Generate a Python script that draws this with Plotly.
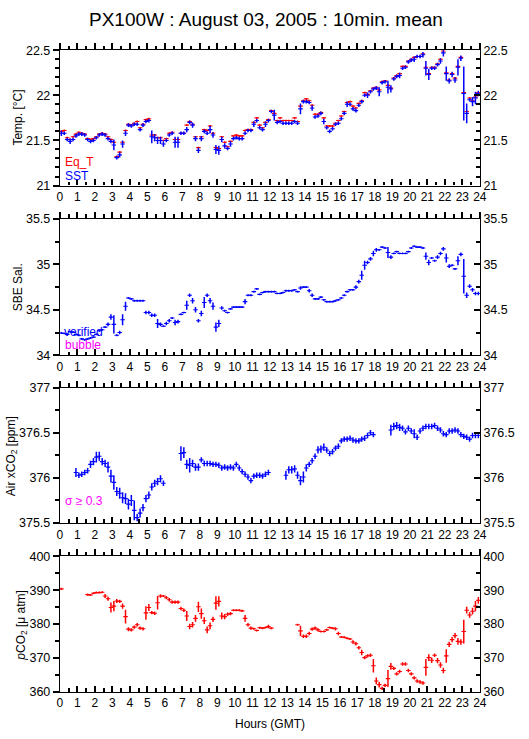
import plotly.graph_objects as go

W, H = 529, 739

# ---------------- data (10-min means, hour of day GMT) ----------------
hours = [round(i / 6 + 1 / 12, 4) for i in range(144)]

eq_t = [21.60, 21.61, 21.53, 21.51, 21.54, 21.57, 21.59, 21.58, 21.57, 21.52,
        21.51, 21.52, 21.54, 21.57, 21.58, 21.57, 21.54, 21.51, 21.48, 21.32,
        21.37, 21.48, 21.61, 21.68, 21.67, 21.69, 21.71, 21.64, 21.68, 21.73,
        21.74, 21.56, 21.56, 21.53, 21.53, 21.50, 21.52, 21.58, 21.59, 21.51,
        21.51, 21.58, 21.58, 21.67, 21.71, 21.68, 21.54, 21.42, 21.54, 21.62,
        21.61, 21.66, 21.58, 21.42, 21.41, 21.54, 21.48, 21.43, 21.49, 21.55,
        21.56, 21.55, 21.55, 21.61, 21.62, 21.62, 21.70, 21.75, 21.67, 21.64,
        21.70, 21.73, 21.83, 21.80, 21.72, 21.75, 21.72, 21.72, 21.72, 21.72,
        21.75, 21.71, 21.88, 21.94, 21.96, 21.94, 21.89, 21.79, 21.79, 21.81,
        21.75, 21.66, 21.66, 21.66, 21.69, 21.72, 21.77, 21.82, 21.92, 21.93,
        21.88, 21.86, 21.91, 21.94, 22.03, 22.01, 22.05, 22.08, 22.09, 22.06,
        22.15, 22.16, 22.11, 22.08, 22.19, 22.22, 22.24, 22.32, 22.32, 22.38,
        22.40, 22.42, 22.43, 22.43, 22.46, 22.31, 22.24, 22.31, 22.31, 22.35,
        22.40, 22.49, 22.25, 22.17, 22.24, 22.19, 22.32, 22.42, 22.03, 21.82,
        21.97, 21.94, 21.98, 22.03]

sst = [21.58, 21.58, 21.51, 21.49, 21.51, 21.55, 21.57, 21.57, 21.56, 21.51,
       21.49, 21.50, 21.53, 21.56, 21.57, 21.56, 21.52, 21.49, 21.45, 21.31,
       21.34, 21.46, 21.58, 21.67, 21.66, 21.68, 21.68, 21.62, 21.67, 21.71,
       21.72, 21.54, 21.53, 21.50, 21.50, 21.46, 21.50, 21.56, 21.58, 21.48,
       21.48, 21.58, 21.58, 21.62, 21.70, 21.67, 21.52, 21.39, 21.52, 21.60,
       21.58, 21.62, 21.56, 21.40, 21.39, 21.51, 21.44, 21.41, 21.46, 21.52,
       21.53, 21.52, 21.52, 21.58, 21.61, 21.61, 21.68, 21.72, 21.64, 21.62,
       21.68, 21.72, 21.82, 21.78, 21.70, 21.71, 21.69, 21.69, 21.69, 21.69,
       21.71, 21.69, 21.85, 21.93, 21.93, 21.92, 21.86, 21.76, 21.77, 21.80,
       21.71, 21.64, 21.60, 21.63, 21.68, 21.69, 21.74, 21.80, 21.90, 21.90,
       21.85, 21.83, 21.89, 21.93, 22.00, 22.00, 22.04, 22.07, 22.08, 22.04,
       22.14, 22.15, 22.09, 22.07, 22.18, 22.21, 22.22, 22.30, 22.31, 22.37,
       22.39, 22.40, 22.43, 22.43, 22.45, 22.30, 22.23, 22.30, 22.30, 22.34,
       22.38, 22.47, 22.24, 22.16, 22.23, 22.17, 22.31, 22.41, 22.02, 21.80,
       21.95, 21.93, 21.97, 22.02]

sst_sd = [0.03, 0.02, 0.02, 0.03, 0.02, 0.02, 0.02, 0.02, 0.02, 0.02,
          0.02, 0.02, 0.02, 0.02, 0.02, 0.02, 0.02, 0.02, 0.06, 0.02,
          0.03, 0.04, 0.03, 0.02, 0.02, 0.02, 0.02, 0.02, 0.02, 0.02,
          0.02, 0.07, 0.04, 0.04, 0.04, 0.03, 0.02, 0.02, 0.02, 0.06,
          0.06, 0.02, 0.02, 0.03, 0.02, 0.03, 0.03, 0.03, 0.03, 0.02,
          0.02, 0.04, 0.03, 0.05, 0.05, 0.03, 0.03, 0.02, 0.03, 0.02,
          0.02, 0.02, 0.02, 0.02, 0.02, 0.02, 0.03, 0.02, 0.02, 0.02,
          0.03, 0.02, 0.02, 0.06, 0.02, 0.02, 0.02, 0.02, 0.02, 0.02,
          0.02, 0.02, 0.06, 0.02, 0.02, 0.02, 0.03, 0.02, 0.02, 0.02,
          0.03, 0.02, 0.02, 0.02, 0.02, 0.02, 0.02, 0.02, 0.03, 0.02,
          0.02, 0.02, 0.02, 0.02, 0.02, 0.03, 0.02, 0.02, 0.02, 0.05,
          0.02, 0.02, 0.07, 0.04, 0.02, 0.02, 0.03, 0.02, 0.02, 0.02,
          0.02, 0.03, 0.02, 0.02, 0.03, 0.08, 0.06, 0.02, 0.02, 0.02,
          0.03, 0.04, 0.08, 0.03, 0.03, 0.03, 0.09, 0.03, 0.30, 0.11,
          0.02, 0.05, 0.07, 0.03]

salinity = [34.245, 34.24, 34.23, 34.26, 34.255, 34.23, 34.22, 34.18, 34.17, 34.18,
            34.19, 34.20, 34.23, 34.27, 34.28, 34.31, 34.34, 34.42, 34.34, 34.22,
            34.25, 34.39, 34.54, 34.63, 34.62, 34.60, 34.60, 34.60, 34.60, 34.47,
            34.47, 34.44, 34.44, 34.35, 34.34, 34.32, 34.35, 34.38, 34.41, 34.36,
            34.37, 34.45, 34.47, 34.55, 34.66, 34.60, 34.50, 34.38, 34.46, 34.58,
            34.66, 34.60, 34.54, 34.31, 34.35, 34.52, 34.49, 34.47, 34.51, 34.53,
            34.53, 34.53, 34.53, 34.59, 34.66, 34.66, 34.70, 34.73, 34.67, 34.69,
            34.70, 34.70, 34.70, 34.70, 34.68, 34.68, 34.69, 34.71, 34.71, 34.71,
            34.72, 34.70, 34.74, 34.75, 34.75, 34.71, 34.66, 34.62, 34.62, 34.64,
            34.61, 34.59, 34.59, 34.59, 34.60, 34.61, 34.63, 34.66, 34.70, 34.72,
            34.72, 34.75, 34.81, 34.88, 34.99, 35.02, 35.06, 35.12, 35.16, 35.16,
            35.19, 35.18, 35.13, 35.08, 35.12, 35.14, 35.12, 35.12, 35.12, 35.14,
            35.18, 35.20, 35.19, 35.19, 35.18, 35.09, 35.02, 35.07, 35.04, 35.08,
            35.12, 35.17, 35.07, 34.98, 34.99, 34.95, 35.04, 35.11, 34.87, 34.66,
            34.76, 34.72, 34.68, 34.68]

sal_sd = [0.01, 0.01, 0.01, 0.01, 0.01, 0.01, 0.01, 0.01, 0.01, 0.01,
          0.01, 0.01, 0.01, 0.01, 0.01, 0.01, 0.02, 0.03, 0.10, 0.01,
          0.02, 0.06, 0.05, 0.01, 0.01, 0.01, 0.01, 0.01, 0.01, 0.02,
          0.02, 0.02, 0.02, 0.05, 0.02, 0.01, 0.02, 0.02, 0.01, 0.03,
          0.02, 0.01, 0.01, 0.05, 0.02, 0.03, 0.03, 0.02, 0.03, 0.06,
          0.02, 0.03, 0.04, 0.05, 0.04, 0.02, 0.01, 0.01, 0.01, 0.01,
          0.01, 0.01, 0.01, 0.03, 0.01, 0.01, 0.01, 0.01, 0.01, 0.01,
          0.01, 0.01, 0.01, 0.01, 0.01, 0.01, 0.01, 0.01, 0.01, 0.01,
          0.01, 0.01, 0.02, 0.01, 0.01, 0.02, 0.02, 0.01, 0.01, 0.01,
          0.01, 0.01, 0.01, 0.01, 0.01, 0.01, 0.01, 0.01, 0.01, 0.01,
          0.01, 0.02, 0.02, 0.05, 0.05, 0.02, 0.02, 0.03, 0.02, 0.01,
          0.01, 0.01, 0.06, 0.02, 0.01, 0.01, 0.01, 0.01, 0.01, 0.01,
          0.01, 0.01, 0.01, 0.01, 0.01, 0.04, 0.03, 0.01, 0.01, 0.02,
          0.02, 0.02, 0.05, 0.02, 0.01, 0.01, 0.05, 0.02, 0.19, 0.03,
          0.02, 0.02, 0.02, 0.02]

N = None
air_xco2 = [N, N, N, N, N, 376.06, 376.03, 376.04, 376.06, 376.08,
            376.15, 376.18, 376.23, 376.24, 376.18, 376.16, 376.12, 376.02, 375.95, 375.85,
            375.83, 375.78, 375.77, 375.71, 375.75, 375.64, 375.56, 375.61, 375.67, 375.77,
            375.81, 375.90, 375.94, 375.96, 375.99, 375.94, N, N, N, N,
            N, 376.27, 376.28, 376.15, 376.14, 376.16, 376.12, 376.12, 376.20, 376.16,
            376.16, 376.16, 376.15, 376.15, 376.14, 376.11, 376.12, 376.11, 376.12, 376.11,
            376.15, 376.11, 376.07, 376.04, 376.01, 375.97, 376.02, 376.03, 376.03, 376.02,
            376.04, 376.06, N, N, N, N, N, 376.03, 376.09, 376.09,
            376.10, 376.03, 375.97, 376.01, 376.11, 376.15, 376.19, 376.24, 376.31, 376.32,
            376.34, 376.31, 376.27, 376.29, 376.33, 376.35, 376.41, 376.43, 376.43, 376.44,
            376.42, 376.41, 376.41, 376.43, 376.44, 376.47, 376.50, 376.48, N, N,
            N, N, N, 376.53, 376.57, 376.58, 376.56, 376.55, 376.51, 376.55,
            376.52, 376.49, 376.45, 376.52, 376.55, 376.57, 376.57, 376.57, 376.58, 376.55,
            376.53, 376.49, 376.48, 376.52, 376.52, 376.53, 376.52, 376.48, 376.46, 376.45,
            376.43, 376.47, 376.47, 376.47]

xco2_sd = [N, N, N, N, N, 0.05, 0.03, 0.03, 0.03, 0.03,
           0.04, 0.04, 0.06, 0.05, 0.04, 0.04, 0.06, 0.07, 0.08, 0.05,
           0.06, 0.06, 0.06, 0.06, 0.06, 0.11, 0.04, 0.05, 0.04, 0.04,
           0.04, 0.04, 0.04, 0.04, 0.04, 0.03, N, N, N, N,
           N, 0.08, 0.06, 0.05, 0.08, 0.04, 0.04, 0.04, 0.03, 0.03,
           0.03, 0.03, 0.03, 0.03, 0.03, 0.03, 0.03, 0.03, 0.03, 0.03,
           0.03, 0.03, 0.03, 0.03, 0.03, 0.03, 0.03, 0.03, 0.03, 0.03,
           0.03, 0.03, N, N, N, N, N, 0.05, 0.04, 0.04,
           0.04, 0.04, 0.05, 0.06, 0.04, 0.03, 0.03, 0.03, 0.04, 0.04,
           0.04, 0.03, 0.03, 0.03, 0.03, 0.03, 0.03, 0.03, 0.03, 0.03,
           0.03, 0.03, 0.03, 0.03, 0.03, 0.03, 0.03, 0.03, N, N,
           N, N, N, 0.06, 0.04, 0.04, 0.04, 0.03, 0.03, 0.03,
           0.03, 0.05, 0.03, 0.03, 0.03, 0.03, 0.03, 0.03, 0.03, 0.03,
           0.03, 0.03, 0.03, 0.03, 0.03, 0.03, 0.03, 0.03, 0.03, 0.03,
           0.03, 0.03, 0.03, 0.03]

pco2 = [390.4, N, N, N, N, N, N, N, N, 388.7,
        388.6, 389.1, 389.3, 389.3, 389.4, 388.3, 387.5, 384.9, 385.3, 386.8,
        386.7, 385.3, 382.2, 378.5, 378.3, 379.1, 379.8, 378.8, 378.6, 383.3,
        384.9, 383.4, 383.2, 386.3, 388.3, 388.3, 387.8, 387.2, 386.5, 386.5,
        386.5, 384.6, 384.1, 382.4, 379.3, 379.8, 381.7, 385.1, 383.1, 381.0,
        378.3, 379.5, 381.4, 386.2, 386.7, 382.4, 382.2, 382.9, 383.1, 384.1,
        384.1, 384.1, 383.9, 381.7, 379.8, 378.8, 378.6, 378.1, 378.9, 378.8,
        379.0, 379.3, 378.8, N, N, N, N, N, N, N,
        N, 379.8, 378.0, 376.4, 376.4, 377.2, 378.5, 378.8, 378.3, 377.8,
        377.8, 378.3, 379.0, 378.8, 378.6, 377.2, 376.2, 376.1, 375.8, 375.6,
        374.7, 374.2, 373.0, 371.6, 370.1, 370.6, 370.8, 367.7, 363.2, 362.1,
        361.0, 361.9, 363.9, 367.5, 366.9, 365.3, 366.0, 368.2, 368.2, 366.3,
        365.3, 364.1, 363.2, 362.9, 362.6, 367.2, 370.1, 369.3, 370.8, 369.2,
        367.9, 366.3, 370.6, 374.0, 375.4, 376.6, 374.9, 374.7, 377.8, 384.1,
        382.7, 383.8, 385.3, 387.0]

pco2_sd = [0.3, N, N, N, N, N, N, N, N, 0.3,
           0.3, 0.3, 0.3, 0.3, 0.3, 0.6, 0.6, 1.5, 1.5, 0.6,
           0.5, 0.8, 2.0, 0.6, 0.5, 0.5, 0.5, 0.5, 0.5, 2.0,
           1.0, 0.5, 0.5, 2.0, 0.5, 0.3, 0.5, 0.5, 0.5, 0.5,
           0.5, 0.5, 0.5, 1.5, 0.8, 0.8, 1.0, 1.5, 1.5, 1.0,
           1.0, 1.0, 0.8, 2.0, 1.5, 1.0, 0.8, 0.5, 0.5, 0.3,
           0.3, 0.3, 0.3, 1.0, 0.5, 0.5, 0.3, 0.3, 0.3, 0.3,
           0.3, 0.5, 0.3, N, N, N, N, N, N, N,
           N, 0.3, 1.5, 0.5, 0.5, 0.5, 0.5, 0.5, 0.5, 0.3,
           0.3, 0.3, 0.3, 0.3, 0.5, 0.5, 0.3, 0.3, 0.3, 0.3,
           0.5, 0.5, 0.5, 0.8, 0.5, 0.5, 0.5, 2.0, 1.0, 0.8,
           0.5, 0.5, 2.5, 1.0, 0.5, 0.5, 0.5, 0.5, 0.5, 0.5,
           0.5, 0.5, 0.5, 0.5, 0.5, 2.5, 1.0, 0.8, 0.5, 0.8,
           0.8, 0.8, 2.0, 0.8, 0.8, 0.8, 1.0, 0.8, 3.5, 1.0,
           0.8, 1.0, 1.5, 1.0]

# ---------------- style ----------------
FONT = "Liberation Sans, Arial, Helvetica, sans-serif"
RED, BLUE, MAGENTA = "#ff0000", "#0000ff", "#ff00ff"
ARM = 0.13  # half-width of the horizontal arm of each cross, in hours
TW = 1.5    # tick width (px)


def fx(p):
    return p / W


def fy(p):
    return 1 - p / H


X_DOM = [fx(58), fx(486)]
# (top_px, bottom_px, y range, major dtick, minor dtick)
panels = [
    (44, 182, [21, 22.5], 0.5, 0.1),
    (216, 355, [34, 35.5], 0.5, 0.25),
    (388, 526, [375.5, 377], 0.5, 0.25),
    (560, 698, [360, 400], 10, 5),
]

fig = go.Figure()


def ax_ids(panel):
    nb, nt = 2 * panel + 1, 2 * panel + 2
    xb = "x" if nb == 1 else f"x{nb}"
    yl = "y" if nb == 1 else f"y{nb}"
    return xb, f"x{nt}", yl, f"y{nt}"


def add_series(panel, xs, ys, sd, color, sd_const=None):
    xb, _, yl, _ = ax_ids(panel)
    ey = (dict(type="constant", value=sd_const, width=0, thickness=1.5, color=color)
          if sd_const is not None else
          dict(type="data", array=sd, symmetric=True, width=0, thickness=1.5, color=color))
    fig.add_trace(go.Scatter(
        x=xs, y=ys, xaxis=xb, yaxis=yl, mode="markers",
        marker=dict(size=1, color=color),
        error_x=dict(type="constant", value=ARM, width=0, thickness=1.1, color=color),
        error_y=ey, showlegend=False, hoverinfo="x+y"))


add_series(0, hours, eq_t, None, RED, sd_const=0.01)
add_series(0, hours, sst, sst_sd, BLUE)
add_series(1, hours, salinity, sal_sd, BLUE)
add_series(2, hours, air_xco2, xco2_sd, BLUE)
add_series(3, hours, pco2, pco2_sd, RED)

# empty traces so that the mirrored (top / right) axes get drawn
for p in range(4):
    _, xt, _, yr_ = ax_ids(p)
    fig.add_trace(go.Scatter(x=[], y=[], xaxis=xt, yaxis=yr_, mode="markers",
                             showlegend=False, hoverinfo="skip"))

tickfont_x = dict(family=FONT, size=12, color="black")
tickfont_y = dict(family=FONT, size=12.5, color="black")

for i, (top, bot, yr, dt, mdt) in enumerate(panels):
    nb, nt = 2 * i + 1, 2 * i + 2
    kb = "xaxis" if nb == 1 else f"xaxis{nb}"
    kt = f"xaxis{nt}"
    ykl = "yaxis" if nb == 1 else f"yaxis{nb}"
    ykr = f"yaxis{nt}"
    xb_id, xt_id, yl_id, yr_id = ax_ids(i)
    ydom = [fy(bot), fy(top)]
    fig.layout[kb] = go.layout.XAxis(
        range=[0, 24], domain=X_DOM, anchor=yl_id, side="bottom",
        showgrid=False, zeroline=False, showline=True, linecolor="black", linewidth=1.2,
        tickmode="linear", tick0=0, dtick=1, ticks="inside", ticklen=6, tickwidth=TW,
        tickcolor="black", showticklabels=True, tickfont=tickfont_x,
        minor=dict(dtick=0.5, tick0=0, ticks="inside", ticklen=3.5, tickwidth=TW,
                   tickcolor="black", showgrid=False))
    fig.layout[kt] = go.layout.XAxis(
        range=[0, 24], domain=X_DOM, anchor=yr_id, overlaying=xb_id, side="top",
        showgrid=False, zeroline=False, showline=True, linecolor="black", linewidth=1.2,
        tickmode="linear", tick0=0, dtick=1, ticks="outside", ticklen=6, tickwidth=TW,
        tickcolor="black", showticklabels=False,
        minor=dict(dtick=0.5, tick0=0, ticks="outside", ticklen=3.5, tickwidth=TW,
                   tickcolor="black", showgrid=False))
    fig.layout[ykl] = go.layout.YAxis(
        range=yr, domain=ydom, anchor=xb_id, side="left",
        showgrid=False, zeroline=False, showline=True, linecolor="black", linewidth=1.2,
        tickmode="linear", tick0=yr[0], dtick=dt, ticks="outside", ticklen=6, tickwidth=TW,
        tickcolor="black", tickfont=tickfont_y,
        minor=dict(dtick=mdt, tick0=yr[0], ticks="outside", ticklen=4, tickwidth=TW,
                   tickcolor="black", showgrid=False))
    fig.layout[ykr] = go.layout.YAxis(
        range=yr, domain=ydom, anchor=xt_id, overlaying=yl_id, side="right",
        showgrid=False, zeroline=False, showline=True, linecolor="black", linewidth=1.2,
        tickmode="linear", tick0=yr[0], dtick=dt, ticks="inside", ticklen=6, tickwidth=TW,
        tickcolor="black", tickfont=tickfont_y,
        minor=dict(dtick=mdt, tick0=yr[0], ticks="inside", ticklen=4, tickwidth=TW,
                   tickcolor="black", showgrid=False))

annotations = [
    dict(text="PX100W : August 03, 2005 : 10min. mean", x=fx(268.5), y=fy(13),
         font=dict(family=FONT, size=19, color="black")),
    dict(text="Temp. [°C]", x=fx(15), y=fy(113), textangle=-90,
         font=dict(family=FONT, size=12, color="black")),
    dict(text="SBE Sal.", x=fx(15), y=fy(286), textangle=-90,
         font=dict(family=FONT, size=12, color="black")),
    dict(text="Air xCO<sub>2</sub> [ppm]", x=fx(9), y=fy(458), textangle=-90,
         font=dict(family=FONT, size=12, color="black")),
    dict(text="<i>p</i>CO<sub>2</sub> [μ atm]", x=fx(19), y=fy(630), textangle=-90,
         font=dict(family=FONT, size=12, color="black")),
    dict(text="Hours (GMT)", x=fx(272), y=fy(731),
         font=dict(family=FONT, size=12, color="black")),
    dict(text="Eq_T", x=fx(61), y=fy(158), xanchor="left",
         font=dict(family=FONT, size=12, color=RED)),
    dict(text="SST", x=fx(61), y=fy(172.5), xanchor="left",
         font=dict(family=FONT, size=12, color=BLUE)),
    dict(text="verified", x=fx(60), y=fy(331), xanchor="left",
         font=dict(family=FONT, size=12, color=BLUE)),
    dict(text="bubble", x=fx(61), y=fy(345), xanchor="left",
         font=dict(family=FONT, size=12, color=MAGENTA)),
    dict(text="σ ≥ 0.3", x=fx(61), y=fy(504), xanchor="left",
         font=dict(family=FONT, size=12, color=MAGENTA)),
]
for a in annotations:
    a.setdefault("xanchor", "center")
    a.update(xref="paper", yref="paper", yanchor="middle", showarrow=False)

fig.update_layout(width=W, height=H, autosize=False,
                  margin=dict(l=0, r=0, t=0, b=0),
                  paper_bgcolor="white", plot_bgcolor="white",
                  annotations=annotations, showlegend=False)

# remove the default page margin so the figure sits at the window's origin
PAGE_JS = ("document.body.style.margin='0';document.body.style.padding='0';"
           "document.body.style.overflow='hidden';")

fig.write_html("out.html", post_script=PAGE_JS,
               config={"displayModeBar": False, "staticPlot": False})
